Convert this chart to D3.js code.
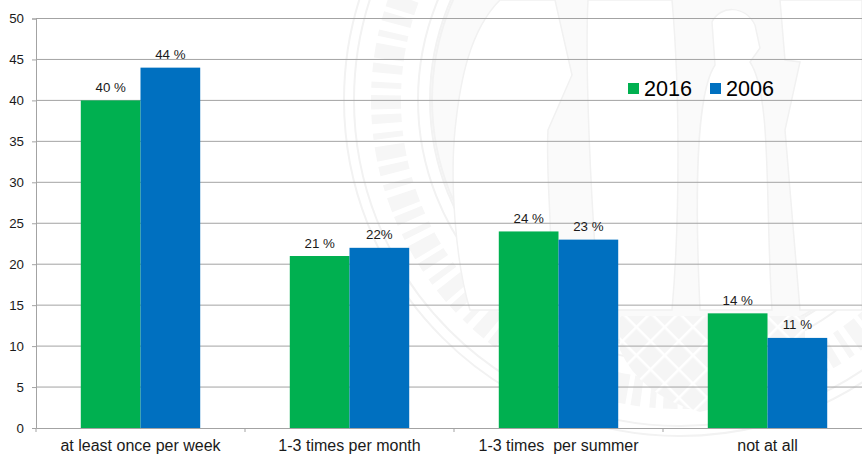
<!DOCTYPE html>
<html>
<head>
<meta charset="utf-8">
<script src="https://cdnjs.cloudflare.com/ajax/libs/d3/7.8.5/d3.min.js"></script>
<style>
  html, body { margin: 0; padding: 0; background: #fff; }
  svg { display: block; font-family: "Liberation Sans", Arial, sans-serif; }
  text { fill: #1a1a1a; white-space: pre; }
</style>
</head>
<body>
<div id="chart"></div>
<script>
var categories = ["at least once per week", "1-3 times per month", "1-3 times  per summer", "not at all"];
var values2016 = [40, 21, 24, 14];
var values2006 = [44, 22, 23, 11];
var labels2016 = ["40 %", "21 %", "24 %", "14 %"];
var labels2006 = ["44 %", "22%", "23 %", "11 %"];
var seriesNames = ["2016", "2006"];
var seriesColors = ["#00b050", "#0070c0"];
var yTicks = [0, 5, 10, 15, 20, 25, 30, 35, 40, 45, 50];

var width = 862, height = 455;
var left = 36, top_ = 18.5, bottom = 428, step = 209;

var svg = d3.select("#chart").append("svg")
  .attr("width", width).attr("height", height);

// faint seal behind the plot, only a rough shape of the original
var sealX = 680, sealY = 100;
var seal = svg.append("g").attr("fill", "none").attr("stroke", "#f2f2f2").attr("stroke-width", 2);
var hatch = svg.append("defs").append("pattern").attr("id", "hatch")
  .attr("width", 20).attr("height", 20).attr("patternUnits", "userSpaceOnUse")
  .attr("patternTransform", "rotate(45)");
hatch.append("rect").attr("width", 20).attr("height", 20).attr("fill", "#f5f5f5");
hatch.append("path").attr("d", "M0 0H20M0 0V20").attr("stroke", "#fff").attr("stroke-width", 5);

seal.append("circle").attr("cx", sealX).attr("cy", sealY).attr("r", 248)
  .attr("fill", "#fafafa");
[336, 326, 262, 250].forEach(function(r) {
  seal.append("circle").attr("cx", sealX).attr("cy", sealY).attr("r", r);
});
// gothic lettering band
seal.append("circle").attr("cx", sealX).attr("cy", sealY).attr("r", 294)
  .attr("stroke", "#f6f6f6").attr("stroke-width", 30).attr("stroke-dasharray", "9 5 14 7 6 9");

var figures = [
  "M500 0C470 30 460 80 455 130C450 180 455 260 470 310L548 310C556 250 545 180 548 130L572 75L555 0Z",
  "M588 0C585 60 590 200 600 310L672 310C680 220 680 90 672 0Z",
  "M712 22C720 5 745 5 755 25L760 48L750 62C772 95 765 200 772 310L700 310C695 200 695 95 715 65Z",
  "M780 0L785 60L800 62L785 130L800 310L862 310L862 0Z"
];
seal.selectAll("path.figure").data(figures).enter().append("path")
  .attr("class", "figure")
  .attr("d", function(d) { return d; })
  .attr("fill", "#fff").attr("stroke", "#f1f1f1").attr("stroke-width", 1.5);
seal.append("path")
  .attr("d", "M620 316H805V350Q775 395 700 412Q640 395 620 350Z")
  .attr("fill", "url(#hatch)").attr("stroke", "none");

var x = d3.scaleBand().domain(categories)
  .range([left, left + step * categories.length]);
var y = d3.scaleLinear().domain([0, 50]).range([bottom, top_]);
var barW = step / 3.5;

// horizontal grid
svg.append("g").selectAll("line").data(yTicks.slice(1)).enter().append("line")
  .attr("x1", left).attr("x2", width)
  .attr("y1", function(d) { return y(d); }).attr("y2", function(d) { return y(d); })
  .attr("stroke", "#a3a3a3").attr("stroke-width", 1);

var yAxis = d3.axisLeft(y).tickValues(yTicks).tickSize(4).tickPadding(8);
var gy = svg.append("g").attr("transform", "translate(" + left + ",0)").call(yAxis);
gy.select(".domain").attr("stroke", "#a3a3a3");
gy.selectAll("line").attr("stroke", "#a3a3a3");
gy.selectAll("text").attr("font-size", 13.3).style("fill", "#1a1a1a");

var xAxis = d3.axisBottom(x).tickSize(0).tickPadding(12);
var gx = svg.append("g").attr("transform", "translate(0," + bottom + ")").call(xAxis);
gx.select(".domain").attr("stroke", "#a3a3a3");
gx.selectAll("text").attr("font-size", 16).style("fill", "#1a1a1a");
gx.selectAll(".sep").data(d3.range(0, categories.length + 1)).enter().append("line")
  .attr("class", "sep")
  .attr("x1", function(d) { return left + d * step; })
  .attr("x2", function(d) { return left + d * step; })
  .attr("y1", 0).attr("y2", 4).attr("stroke", "#a3a3a3");

var series = [values2016, values2006];
var seriesLabels = [labels2016, labels2006];
series.forEach(function(vals, s) {
  var g = svg.append("g");
  var barX = function(i) {
    return x(categories[i]) + x.bandwidth() / 2 - barW + s * barW;
  };
  g.selectAll("rect").data(vals).enter().append("rect")
    .attr("x", function(d, i) { return barX(i); })
    .attr("y", function(d) { return y(d); })
    .attr("width", barW)
    .attr("height", function(d) { return bottom - y(d); })
    .attr("fill", seriesColors[s]);
  g.selectAll("text").data(vals).enter().append("text")
    .attr("x", function(d, i) { return barX(i) + barW / 2; })
    .attr("y", function(d) { return y(d) - 8.5; })
    .attr("text-anchor", "middle")
    .attr("font-size", 13.3)
    .text(function(d, i) { return seriesLabels[s][i]; });
});

// legend
var legendX = [628, 710];
seriesNames.forEach(function(name, i) {
  svg.append("rect").attr("x", legendX[i]).attr("y", 83).attr("width", 11).attr("height", 11)
    .attr("fill", seriesColors[i]);
  svg.append("text").attr("x", legendX[i] + 16).attr("y", 95.5)
    .attr("font-size", 21.6).style("fill", "#000").text(name);
});
</script>
</body>
</html>
